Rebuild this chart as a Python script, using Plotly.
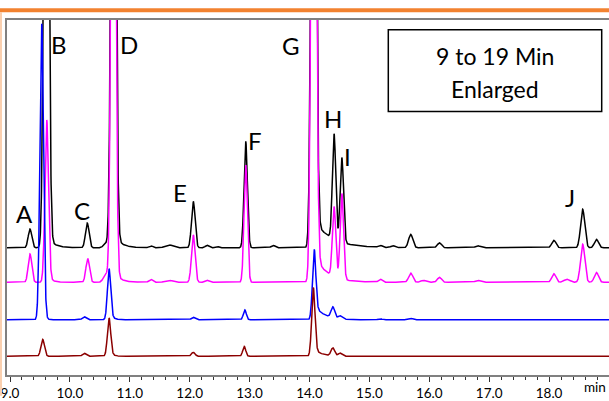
import numpy as np
import plotly.graph_objects as go

# ---------------- data ----------------
# peak retention times (min), peak heights (signal units) and peak widths (sigma, min)
black_rt = [9.334, 9.606, 10.29, 10.60, 10.728, 11.35, 11.65, 12.06, 12.29, 12.45, 12.935, 13.39,
            14.07, 14.41, 14.54, 15.18, 15.39, 15.69, 16.17, 16.81, 18.08, 18.56, 18.79]
black_h = [19, 800, 25, 4, 800, 2, 3, 47, 2.5, 1.5, 108, 2.5,
           900, 107, 86, 2, 2, 13.5, 5, 2, 7.5, 39, 8.5]
black_w = [0.03, 0.035, 0.03, 0.04, 0.035, 0.03, 0.06, 0.03, 0.03, 0.03, 0.028, 0.03,
           0.035, 0.028, 0.028, 0.03, 0.03, 0.035, 0.035, 0.04, 0.035, 0.035, 0.035]
black_tail_t0 = [9.62, 10.74, 14.08]
black_tail_amp = [10, 12, 28]
black_tail_tau = [0.12, 0.12, 0.28]

magenta_rt = [9.334, 9.613, 10.297, 10.60, 10.725, 11.35, 11.65, 12.06, 12.29, 12.935,
              14.07, 14.41, 14.54, 15.18, 15.69, 15.90, 16.17, 16.81, 18.08, 18.30, 18.56, 18.79]
magenta_h = [28.7, 159, 24, 8, 800, 3, 2, 48, 2, 119,
             900, 71, 87, 3, 9.3, 2, 5, 2, 8.7, 3, 38.7, 10]
magenta_w = [0.03, 0.03, 0.03, 0.04, 0.033, 0.03, 0.06, 0.03, 0.03, 0.028,
             0.035, 0.028, 0.028, 0.03, 0.035, 0.04, 0.035, 0.04, 0.035, 0.05, 0.035, 0.035]
magenta_tail_t0 = [9.62, 10.74, 14.08]
magenta_tail_amp = [6, 10, 28]
magenta_tail_tau = [0.08, 0.10, 0.21]

blue_rt = [9.529, 10.24, 10.653, 12.06, 12.92, 14.075, 14.39, 14.51, 15.18, 15.69]
blue_h = [296, 3, 46, 2.5, 10, 60, 11, 3, 1, 1.5]
blue_w = [0.03, 0.03, 0.028, 0.03, 0.025, 0.028, 0.03, 0.03, 0.03, 0.03]
blue_tail_t0 = [9.54, 10.66, 14.09]
blue_tail_amp = [5, 6, 14]
blue_tail_tau = [0.05, 0.06, 0.165]

darkred_rt = [9.546, 10.24, 10.653, 12.06, 12.91, 14.063, 14.39, 14.51]
darkred_h = [17, 3, 35, 4, 10, 62, 8, 3]
darkred_w = [0.03, 0.03, 0.028, 0.03, 0.025, 0.028, 0.03, 0.03]
darkred_tail_t0 = [10.66, 14.07]
darkred_tail_amp = [4, 8]
darkred_tail_tau = [0.06, 0.12]

peak_labels = ["A", "B", "C", "D", "E", "F", "G", "H", "I", "J"]
label_time = [9.242, 9.823, 10.202, 10.982, 11.838, 13.09, 13.683, 14.384, 14.626, 18.344]
label_level = [164, 335, 167, 335, 185, 238, 334, 260, 222, 180]

major_ticks = [9.0, 10.0, 11.0, 12.0, 13.0, 14.0, 15.0, 16.0, 17.0, 18.0]
major_text = ["9.0", "10.0", "11.0", "12.0", "13.0", "14.0", "15.0", "16.0", "17.0", "18.0"]

# vertical stacking offsets of the four runs (layout)
offsets = {"black": 129, "magenta": 94, "blue": 56, "darkred": 19}

# ---------------- build chromatogram traces ----------------
t = np.arange(8.95, 19.0005, 0.002)


def chrom(rt, h, w, t0s, amps, taus):
    s = np.zeros_like(t)
    for r, a, sg in zip(rt, h, w):
        s += a * np.exp(-0.5 * ((t - r) / sg) ** 2)
    for t0, a, tau in zip(t0s, amps, taus):
        tail = np.where(t >= t0, a * np.exp(-(t - t0) / tau),
                        a * np.exp(-0.5 * ((t - t0) / 0.02) ** 2))
        s += tail
    return s


series = [
    ("black", "#000000", chrom(black_rt, black_h, black_w, black_tail_t0, black_tail_amp, black_tail_tau)),
    ("magenta", "#FF00FF", chrom(magenta_rt, magenta_h, magenta_w, magenta_tail_t0, magenta_tail_amp, magenta_tail_tau)),
    ("blue", "#0000FF", chrom(blue_rt, blue_h, blue_w, blue_tail_t0, blue_tail_amp, blue_tail_tau)),
    ("darkred", "#8B0000", chrom(darkred_rt, darkred_h, darkred_w, darkred_tail_t0, darkred_tail_amp, darkred_tail_tau)),
]

fig = go.Figure()
for name, color, sig in series:
    fig.add_trace(go.Scatter(x=t, y=sig + offsets[name], mode="lines",
                             line=dict(color=color, width=1.5), hoverinfo="skip",
                             showlegend=False))

FONT = "Lato, Open Sans, sans-serif"

annotations = []
for lab, lx, ly in zip(peak_labels, label_time, label_level):
    annotations.append(dict(x=lx, y=ly, xref="x", yref="y", text=lab, showarrow=False,
                            xanchor="center", yanchor="middle",
                            font=dict(family=FONT, size=24, color="#000000")))

# plot area: left 7px, top 20px, bottom 380px, width 602, height 360
def px(X):
    return (X - 7) / 602.0


def py(Y):
    return (380 - Y) / 360.0


annotations.append(dict(x=px(495), y=py(56.7), xref="paper", yref="paper", text="9 to 19 Min",
                        showarrow=False, xanchor="center", yanchor="middle",
                        font=dict(family=FONT, size=23, color="#000000")))
annotations.append(dict(x=px(495), y=py(90), xref="paper", yref="paper", text="Enlarged",
                        showarrow=False, xanchor="center", yanchor="middle",
                        font=dict(family=FONT, size=23, color="#000000")))
annotations.append(dict(x=px(608), y=py(392), xref="paper", yref="paper", text="min",
                        showarrow=False, xanchor="right", yanchor="middle",
                        font=dict(family=FONT, size=13.5, color="#000000")))

shapes = [
    dict(type="rect", xref="paper", yref="paper", x0=px(388.3), x1=px(601.7),
         y0=py(112.7), y1=py(30), line=dict(color="#000000", width=1.5), fillcolor="rgba(0,0,0,0)"),
    dict(type="line", xref="paper", yref="paper", x0=px(0), x1=px(609), y0=py(10), y1=py(10),
         line=dict(color="#F28230", width=4)),
    dict(type="line", xref="paper", yref="paper", x0=px(1), x1=px(1), y0=py(12), y1=py(401),
         line=dict(color="#FAD0B0", width=2)),
]

fig.update_layout(
    width=609, height=401,
    margin=dict(l=7, r=0, t=20, b=21, pad=0),
    paper_bgcolor="white", plot_bgcolor="white",
    showlegend=False,
    annotations=annotations,
    shapes=shapes,
    xaxis=dict(range=[8.95, 19.0], showline=True, mirror=True, linecolor="#808080", linewidth=2,
               showgrid=False, zeroline=False,
               tickmode="array", tickvals=major_ticks, ticktext=major_text,
               ticks="outside", ticklen=5, tickwidth=1, tickcolor="#333333",
               tickfont=dict(family=FONT, size=13.5, color="#000000"),
               minor=dict(ticks="outside", ticklen=3, tickwidth=1, tickcolor="#333333",
                          tickmode="linear", tick0=9.0, dtick=0.2, showgrid=False)),
    yaxis=dict(range=[0, 360], showline=True, linecolor="#808080", linewidth=2,
               showgrid=False, zeroline=False, showticklabels=False, ticks=""),
)

fig.write_html("out.html")
